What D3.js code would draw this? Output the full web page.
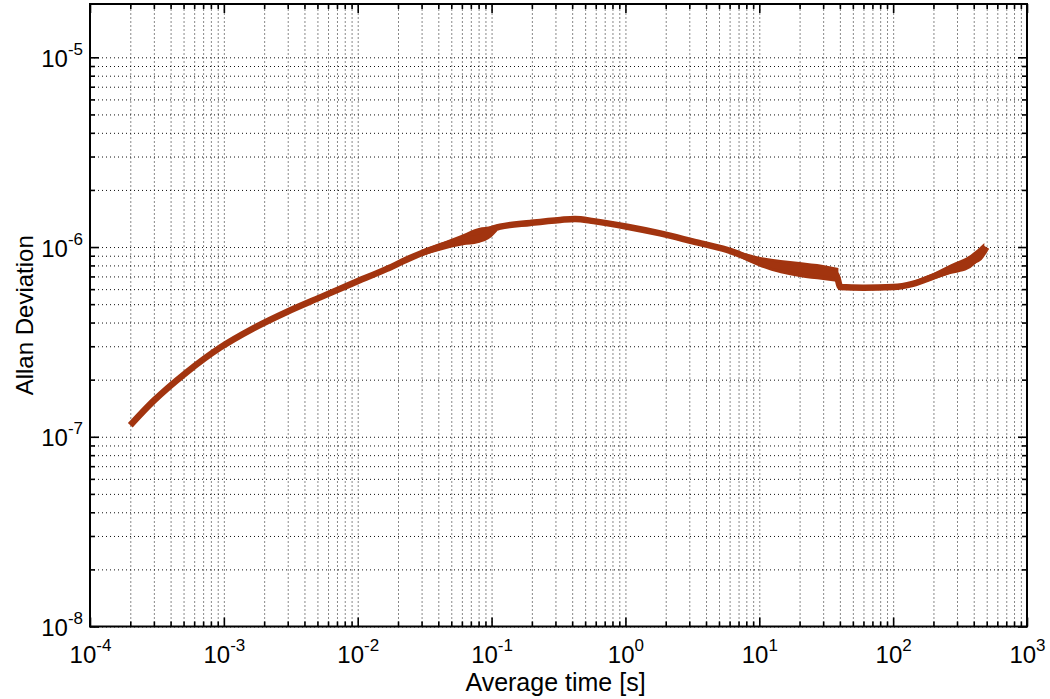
<!DOCTYPE html>
<html>
<head>
<meta charset="utf-8">
<script src="https://cdn.jsdelivr.net/npm/d3@7"></script>
<style>
  html, body { margin: 0; padding: 0; background: #fff; }
  svg { display: block; }
</style>
</head>
<body>
<svg id="chart" width="1050" height="699"></svg>
<script>
// ---- data ----
const tau = [2e-4, 2.97e-4, 5.28e-4, 9.37e-4, 1.66e-3, 2.95e-3, 5.24e-3, 9.29e-3, 1.65e-2, 2.59e-2,
             6.14e-2, 0.085, 0.095, 0.116, 0.195, 0.326, 0.42, 0.578, 1.03, 1.82, 3.23, 5.74,
             10.2, 20.2, 37.6, 40.3, 60, 100, 140, 200, 268, 378, 440, 497];
const sigma = [1.15e-7, 1.54e-7, 2.19e-7, 2.95e-7, 3.73e-7, 4.55e-7, 5.43e-7, 6.46e-7, 7.67e-7, 8.9e-7,
               1.09e-6, 1.13e-6, 1.22e-6, 1.28e-6, 1.34e-6, 1.39e-6, 1.406e-6, 1.37e-6, 1.28e-6, 1.18e-6, 1.068e-6, 9.65e-7,
               8.35e-7, 7.62e-7, 7.13e-7, 6.16e-7, 6.1e-7, 6.15e-7, 6.4e-7, 7.0e-7, 7.57e-7, 8.35e-7, 8.8e-7, 1.0e-6];

// noisy envelopes
const band1Tau  = [0.03, 0.06, 0.08, 0.1, 0.11];
const band1Low  = [8.97e-7, 1.02e-6, 1.05e-6, 1.13e-6, 1.21e-6];
const band1High = [9.64e-7, 1.16e-6, 1.26e-6, 1.29e-6, 1.31e-6];

const band2Tau  = [7, 10, 20, 30, 39];
const band2Low  = [8.9e-7, 7.9e-7, 6.96e-7, 6.71e-7, 6.55e-7];
const band2High = [9.5e-7, 8.9e-7, 8.35e-7, 8.05e-7, 7.76e-7];

const band3Tau  = [140, 200, 268, 378, 480];
const band3Low  = [6.2e-7, 6.75e-7, 7.2e-7, 7.76e-7, 9.2e-7];
const band3High = [6.6e-7, 7.3e-7, 8.1e-7, 9.08e-7, 1.05e-6];

const xDecades = [-4, -3, -2, -1, 0, 1, 2, 3];
const yDecades = [-8, -7, -6, -5];
const xDomain = [1e-4, 1e3];
const yDomain = [1e-8, 1.91e-5];

// ---- layout ----
const svg = d3.select('#chart');
const L = 90, R = 1027, T = 4, B = 626.5;
const W = R - L, H = B - T;
const curveColor = '#a2340f';

const x = d3.scaleLog().domain(xDomain).range([L, R]);
const y = d3.scaleLog().domain(yDomain).range([B, T]);

function minorTicks(scale, lo, hi) {
  const out = [];
  for (let e = lo; e <= hi; e++) {
    for (let m = 2; m <= 9; m++) {
      const v = m * Math.pow(10, e);
      const d = scale.domain();
      if (v >= d[0] && v <= d[1]) out.push(v);
    }
  }
  return out;
}
const xMajor = xDecades.map(e => Math.pow(10, e));
const yMajor = yDecades.map(e => Math.pow(10, e));
const xMinor = minorTicks(x, -4, 2);
const yMinor = minorTicks(y, -8, -5);
const xAll = xMajor.concat(xMinor);
const yAll = yMajor.concat(yMinor);

// ---- grid ----
const gridStyle = g => {
  g.select('.domain').remove();
  g.selectAll('.tick text').remove();
  g.selectAll('.tick line')
    .attr('stroke', '#111')
    .attr('stroke-width', 1)
    .attr('stroke-dasharray', '1,3');
};
svg.append('g')
  .attr('transform', `translate(0,${B})`)
  .call(d3.axisBottom(x).tickValues(xAll).tickSize(-H).tickFormat(''))
  .call(gridStyle);
svg.append('g')
  .attr('transform', `translate(${L},0)`)
  .call(d3.axisLeft(y).tickValues(yAll).tickSize(-W).tickFormat(''))
  .call(gridStyle);

// ---- bands & curve ----
function drawBand(tv, lo, hi) {
  const data = tv.map((t, i) => ({t, lo: lo[i], hi: hi[i]}));
  svg.append('path')
    .datum(data)
    .attr('fill', curveColor)
    .attr('d', d3.area()
      .x(d => x(d.t)).y0(d => y(d.lo)).y1(d => y(d.hi))
      .curve(d3.curveMonotoneX));
}
drawBand(band1Tau, band1Low, band1High);
drawBand(band2Tau, band2Low, band2High);
drawBand(band3Tau, band3Low, band3High);

const pts = tau.map((t, i) => ({t, s: sigma[i]}));
svg.append('path')
  .datum(pts)
  .attr('fill', 'none')
  .attr('stroke', curveColor)
  .attr('stroke-width', 6.5)
  .attr('stroke-linejoin', 'round')
  .attr('stroke-linecap', 'butt')
  .attr('d', d3.line().x(d => x(d.t)).y(d => y(d.s)).curve(d3.curveMonotoneX));

// ---- ticks (inside, all four sides) ----
const tickStyle = g => {
  g.select('.domain').remove();
  g.selectAll('.tick text').remove();
  g.selectAll('.tick line').attr('stroke', '#000').attr('stroke-width', 1.6);
};
svg.append('g').attr('transform', `translate(0,${B})`)
  .call(d3.axisBottom(x).tickValues(xMajor).tickSize(-9).tickFormat('')).call(tickStyle);
svg.append('g').attr('transform', `translate(0,${B})`)
  .call(d3.axisBottom(x).tickValues(xMinor).tickSize(-5).tickFormat('')).call(tickStyle);
svg.append('g').attr('transform', `translate(0,${T})`)
  .call(d3.axisTop(x).tickValues(xMajor).tickSize(-9).tickFormat('')).call(tickStyle);
svg.append('g').attr('transform', `translate(0,${T})`)
  .call(d3.axisTop(x).tickValues(xMinor).tickSize(-5).tickFormat('')).call(tickStyle);
svg.append('g').attr('transform', `translate(${L},0)`)
  .call(d3.axisLeft(y).tickValues(yMajor).tickSize(-9).tickFormat('')).call(tickStyle);
svg.append('g').attr('transform', `translate(${L},0)`)
  .call(d3.axisLeft(y).tickValues(yMinor).tickSize(-5).tickFormat('')).call(tickStyle);
svg.append('g').attr('transform', `translate(${R},0)`)
  .call(d3.axisRight(y).tickValues(yMajor).tickSize(-9).tickFormat('')).call(tickStyle);
svg.append('g').attr('transform', `translate(${R},0)`)
  .call(d3.axisRight(y).tickValues(yMinor).tickSize(-5).tickFormat('')).call(tickStyle);

// ---- frame ----
svg.append('rect')
  .attr('x', L).attr('y', T).attr('width', W).attr('height', H)
  .attr('fill', 'none').attr('stroke', '#000').attr('stroke-width', 2);

// ---- tick labels ----
const font = 'Arial, "Liberation Sans", Helvetica, sans-serif';
function powLabel(sel) {
  sel.each(function(d) {
    const e = Math.round(Math.log10(d));
    const t = d3.select(this);
    t.text(null);
    t.append('tspan').text('10');
    t.append('tspan').attr('dy', -12).attr('font-size', 17).text(String(e).replace('\u2212', '-'));
  });
}
svg.append('g').attr('transform', `translate(0,${B})`)
  .call(d3.axisBottom(x).tickValues(xMajor).tickSize(0).tickPadding(0).tickFormat(d => d))
  .call(g => {
    g.select('.domain').remove();
    g.selectAll('.tick text')
      .attr('font-family', font).attr('font-size', 24).attr('fill', '#000')
      .attr('dy', null).attr('y', 36)
      .attr('text-anchor', 'middle')
      .call(powLabel);
  });
svg.append('g').attr('transform', `translate(${L},0)`)
  .call(d3.axisLeft(y).tickValues(yMajor).tickSize(0).tickPadding(0).tickFormat(d => d))
  .call(g => {
    g.select('.domain').remove();
    g.selectAll('.tick text')
      .attr('font-family', font).attr('font-size', 24).attr('fill', '#000')
      .attr('dy', null).attr('x', -7).attr('y', 9)
      .attr('text-anchor', 'end')
      .call(powLabel);
  });

// ---- axis titles ----
svg.append('text')
  .attr('x', (L + R) / 2 - 3).attr('y', 691)
  .attr('text-anchor', 'middle')
  .attr('font-family', font).attr('font-size', 25).attr('fill', '#000')
  .text('Average time [s]');
svg.append('text')
  .attr('transform', `translate(33,${(T + B) / 2}) rotate(-90)`)
  .attr('text-anchor', 'middle')
  .attr('font-family', font).attr('font-size', 24).attr('fill', '#000')
  .text('Allan Deviation');
</script>
</body>
</html>
